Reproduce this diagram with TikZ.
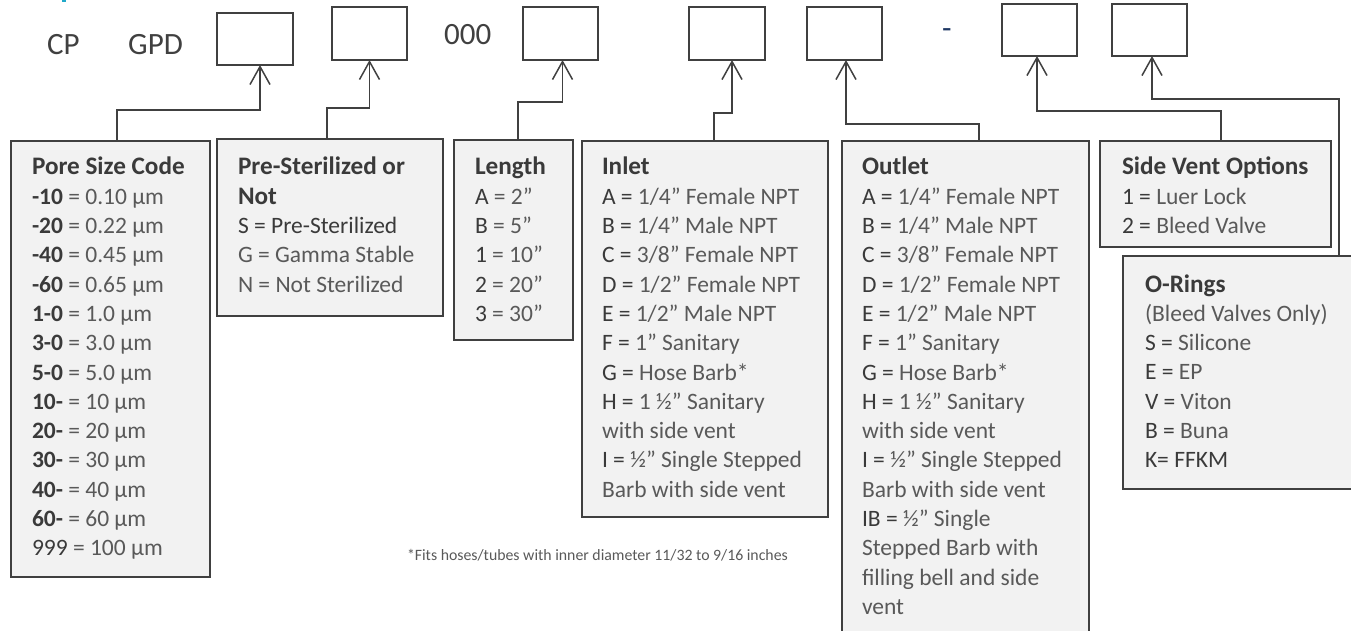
\documentclass[tikz,border=0pt]{standalone}
\usepackage{fontspec}
\setmainfont{Carlito}
\usetikzlibrary{arrows.meta}
\definecolor{ln}{HTML}{404040}
\definecolor{bf}{HTML}{F2F2F2}
\definecolor{tdark}{HTML}{3A3A3A}
\definecolor{tlight}{HTML}{595959}
\definecolor{navy}{HTML}{1F3864}
\definecolor{cyanmark}{HTML}{21A9C9}
\newcommand\kk[1]{{\color{tdark}#1}}
\newcommand\kb[1]{{\color{tdark}\bfseries #1}}
\newcommand\ttl[1]{{\color{tdark}\bfseries\fontsize{25.2}{29.3}\selectfont #1}}
\newcommand\lst[1]{\parbox[t]{320pt}{\raggedright\fontsize{23.5}{29.3}\selectfont\leavevmode #1}}
\tikzset{
 codebox/.style={draw=ln, line width=1.5pt, fill=white, anchor=north west, inner sep=0pt, outer sep=0pt},
 infobox/.style={draw=ln, line width=1.5pt, fill=bf, anchor=north west, inner sep=0pt, outer sep=0pt},
 conn/.style={draw=ln, line width=1.5pt, -{Straight Barb[length=18pt,width=20pt,line width=1.5pt]}},
 listtext/.style={anchor=base west, inner sep=0pt, outer sep=0pt, text=tlight},
 toptext/.style={anchor=base west, inner sep=0pt, text=ln, font=\fontsize{31}{37}\selectfont},
}
\begin{document}
\begin{tikzpicture}[x=1pt,y=-1pt]
\useasboundingbox (0,0) rectangle (1351,631);
\fill[cyanmark] (62,0) rectangle (66,2.5);
% top code line
\node[toptext] (cp) at (47,55) {CP};
\node[toptext] (gpd) at (128,55) {GPD};
\node[toptext] (zeros) at (444,45) {000};
\node[toptext, text=navy] (dash) at (942,39) {-};
\node[codebox, minimum width=76pt, minimum height=52pt] (c1) at (217,13) {};
\node[codebox, minimum width=75pt, minimum height=53pt] (c2) at (332,7) {};
\node[codebox, minimum width=75pt, minimum height=53pt] (c3) at (523,7) {};
\node[codebox, minimum width=76pt, minimum height=53pt] (c4) at (689,7) {};
\node[codebox, minimum width=75pt, minimum height=53pt] (c5) at (807,7) {};
\node[codebox, minimum width=75pt, minimum height=52pt] (c6) at (1002,4) {};
\node[codebox, minimum width=75pt, minimum height=52pt] (c7) at (1112,4) {};
% info boxes
\node[infobox, minimum width=199pt, minimum height=436pt] (pore) at (11,141) {};
\node[infobox, minimum width=226pt, minimum height=177pt] (pster) at (217,139) {};
\node[infobox, minimum width=119pt, minimum height=200pt] (len) at (454,140) {};
\node[infobox, minimum width=246pt, minimum height=376pt] (inlet) at (582,141) {};
\node[infobox, minimum width=247pt, minimum height=520pt] (outlet) at (842,141) {};
\node[infobox, minimum width=231pt, minimum height=106pt] (vent) at (1100,141) {};
\node[infobox, minimum width=260pt, minimum height=233pt] (oring) at (1123,256) {};
% texts
\node[listtext] (tpore) at (32,175) {\lst{\ttl{Pore Size Code}\\
\kb{-10} = 0.10 µm\\ \kb{-20} = 0.22 µm\\ \kb{-40} = 0.45 µm\\ \kb{-60} = 0.65 µm\\
\kb{1-0} = 1.0 µm\\ \kb{3-0} = 3.0 µm\\ \kb{5-0} = 5.0 µm\\
\kb{10-} = 10 µm\\ \kb{20-} = 20 µm\\ \kb{30-} = 30 µm\\ \kb{40-} = 40 µm\\ \kb{60-} = 60 µm\\
\kk{999} = 100 µm}};
\node[listtext] (tpster) at (238,175) {\lst{\ttl{Pre-Sterilized or}\\ \ttl{Not}\\
\kk{S = Pre-Sterilized}\\ G = Gamma Stable\\ N = Not Sterilized}};
\node[listtext] (tlen) at (475,175) {\lst{\ttl{Length}\\
\kk{A} = 2”\\ \kk{B} = 5”\\ \kk{1} = 10”\\ \kk{2} = 20”\\ \kk{3} = 30”}};
\node[listtext] (tinlet) at (602,175) {\lst{\ttl{Inlet}\\
\kk{A =} 1/4” Female NPT\\ \kk{B =} 1/4” Male NPT\\ \kk{C =} 3/8” Female NPT\\
\kk{D =} 1/2” Female NPT\\ \kk{E =} 1/2” Male NPT\\ \kk{F =} 1” Sanitary\\
\kk{G =} Hose Barb*\\ \kk{H =} 1 ½” Sanitary\\ with side vent\\
\kk{I =} ½” Single Stepped\\ Barb with side vent}};
\node[listtext] (toutlet) at (862,175) {\lst{\ttl{Outlet}\\
\kk{A =} 1/4” Female NPT\\ \kk{B =} 1/4” Male NPT\\ \kk{C =} 3/8” Female NPT\\
\kk{D =} 1/2” Female NPT\\ \kk{E =} 1/2” Male NPT\\ \kk{F =} 1” Sanitary\\
\kk{G =} Hose Barb*\\ \kk{H =} 1 ½” Sanitary\\ with side vent\\
\kk{I =} ½” Single Stepped\\ Barb with side vent\\
\kk{IB =} ½” Single\\ Stepped Barb with\\ filling bell and side\\ vent}};
\node[listtext] (tvent) at (1122,175) {\lst{\ttl{Side Vent Options}\\
\kk{1 =} Luer Lock\\ \kk{2 =} Bleed Valve}};
\node[listtext] (toring) at (1145,292) {\lst{\ttl{O-Rings}\\
(Bleed Valves Only)\\ \kk{S =} Silicone\\ \kk{E =} EP\\ \kk{V =} Viton\\ \kk{B =} Buna\\ \kk{K= FFKM}}};
\node[listtext, font=\fontsize{15.8}{18}\selectfont] (foot) at (407,560) {*Fits hoses/tubes with inner diameter 11/32 to 9/16 inches};
% connectors
\coordinate (s1) at ([xshift=106pt]pore.north west);
\coordinate (s2) at ([xshift=110pt]pster.north west);
\coordinate (s3) at ([xshift=64pt]len.north west);
\coordinate (s4) at ([xshift=132pt]inlet.north west);
\coordinate (s5) at ([xshift=137pt]outlet.north west);
\coordinate (s6) at ([xshift=121pt]vent.north west);
\coordinate (s7) at ([xshift=216pt]oring.north west);
\coordinate (a1) at ([xshift=5pt]c1.south);
\coordinate (a2) at (c2.south);
\coordinate (a3) at ([xshift=2pt]c3.south);
\coordinate (a4) at ([xshift=5pt]c4.south);
\coordinate (a5) at ([xshift=1.5pt]c5.south);
\coordinate (a6) at ([xshift=-2.5pt]c6.south);
\coordinate (a7) at ([xshift=2.5pt]c7.south);
\draw[conn] (s1) -- ++(0,-31) -| (a1);
\draw[conn] (s2) -- ++(0,-31) -| (a2);
\draw[conn] (s3) -- ++(0,-38) -| (a3);
\draw[conn] (s4) -- ++(0,-28) -| (a4);
\draw[conn] (s5) -- ++(0,-17) -| (a5);
\draw[conn] (s6) -- ++(0,-30) -| (a6);
\draw[conn] (s7) -- ++(0,-157) -| (a7);
\end{tikzpicture}
\end{document}
